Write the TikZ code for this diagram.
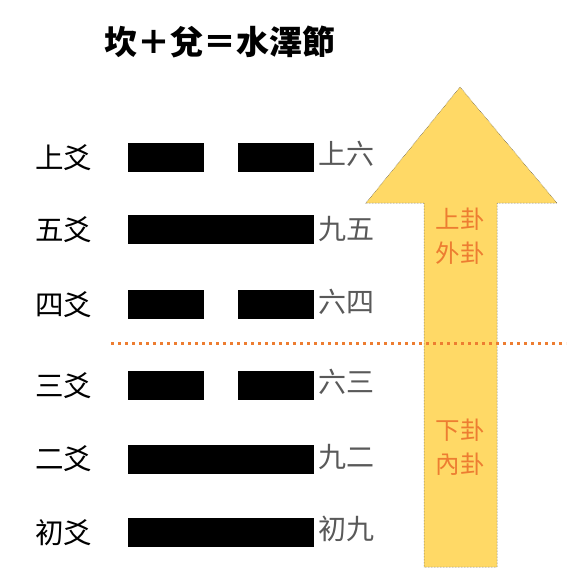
\documentclass[tikz,border=0pt]{standalone}
\usepackage{fontspec}
\setmainfont{Noto Sans CJK TC}
\definecolor{yaoorange}{HTML}{ED7D31}
\definecolor{yaogray}{HTML}{595959}
\definecolor{arrowyellow}{HTML}{FFD966}
\tikzset{
  yang/.style={fill=black, inner sep=0pt, minimum width=186pt, minimum height=29pt},
  yin/.style={fill=black, inner sep=0pt, minimum width=76pt, minimum height=29pt},
  yaoname/.style={font=\fontsize{28.5}{31}\selectfont, inner sep=0pt},
  yaovalue/.style={font=\fontsize{28}{31}\selectfont, text=yaogray, anchor=west, inner sep=0pt},
  gualabel/.style={font=\fontsize{24.5}{34}\selectfont, text=yaoorange, align=center, inner sep=0pt}
}
\begin{document}
\begin{tikzpicture}[x=1pt, y=-1pt]
\useasboundingbox (0,0) rectangle (566,577);

% title
\node[font=\fontsize{33}{36}\selectfont\bfseries, inner sep=0pt] (title) at (220,42) {坎＋兌＝水澤節};

% arrow
\draw[fill=arrowyellow, draw=black!70, densely dotted, line width=0.5pt]
  (424,567) -- (424,203) -- (366,203) -- (460,87) -- (557,203) -- (497,203) -- (497,567) -- cycle;
\node[gualabel] (upper) at (460,236) {上卦\\外卦};
\node[gualabel] (lower) at (460,447) {下卦\\內卦};

% lines
\node[yin] (y6a) at (166,157.5) {};
\node[yin] (y6b) at (276,157.5) {};
\node[yang] (y5) at (221,229.5) {};
\node[yin] (y4a) at (166,304.5) {};
\node[yin] (y4b) at (276,304.5) {};
\node[yin] (y3a) at (166,385.5) {};
\node[yin] (y3b) at (276,385.5) {};
\node[yang] (y2) at (221,459) {};
\node[yang] (y1) at (221,532.5) {};

% names
\node[yaoname] (n6) at (63.5,157.5) {上爻};
\node[yaoname] (n5) at (63.5,229.5) {五爻};
\node[yaoname] (n4) at (63.5,304.5) {四爻};
\node[yaoname] (n3) at (63.5,385.5) {三爻};
\node[yaoname] (n2) at (63.5,459) {二爻};
\node[yaoname] (n1) at (63.5,532.5) {初爻};

\node[yaovalue] (v6) at (318,154) {上六};
\node[yaovalue] (v5) at (318,229.5) {九五};
\node[yaovalue] (v4) at (318,302) {六四};
\node[yaovalue] (v3) at (318,382) {六三};
\node[yaovalue] (v2) at (318,457) {九二};
\node[yaovalue] (v1) at (318,529) {初九};

% divider
\coordinate (divl) at (111,343);
\coordinate (divr) at (566,343);
\draw[yaoorange, line width=3pt, dash pattern=on 3pt off 4pt] (divl) -- (divr);
\end{tikzpicture}
\end{document}
